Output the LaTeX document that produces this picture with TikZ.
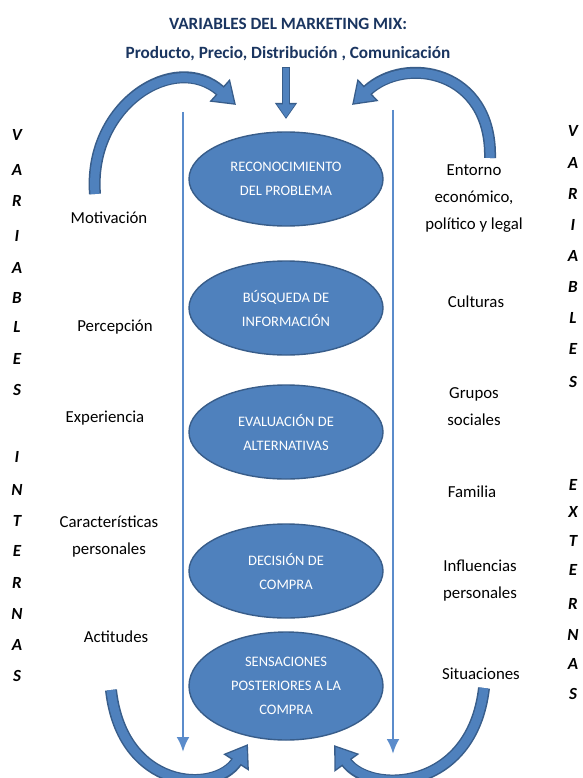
\documentclass[tikz,border=0pt]{standalone}
\usepackage{fontspec}
\setmainfont{Carlito}
\usetikzlibrary{shapes.geometric,arrows.meta}
\definecolor{ebl}{HTML}{4F81BD}
\definecolor{edk}{HTML}{385D8A}
\definecolor{vln}{HTML}{5B8CCB}
\definecolor{ttl}{HTML}{1A3560}
\tikzset{
  stage/.style={ellipse,fill=ebl,draw=edk,line width=1.4pt,minimum width=194pt,minimum height=94pt,
    text=white,align=center,inner sep=0pt,font=\fontsize{14.5}{24}\selectfont},
  lab/.style={align=center,font=\fontsize{16.8}{27}\selectfont,text=black},
  vlet/.style={font=\fontsize{17}{18}\selectfont\bfseries\itshape,text=black},
  ttlstyle/.style={font=\fontsize{17.2}{29}\selectfont\bfseries,text=ttl,align=center},
  vline/.style={draw=vln,line width=2.8pt,-{Latex[width=13pt,length=15pt]}},
  curvout/.style={draw=edk,line width=12pt,-{Triangle[width=29pt,length=22pt]}},
  curvin/.style={draw=ebl,line width=9pt,shorten >=2.5pt,-{Triangle[width=24pt,length=18pt]}},
}
\begin{document}
\begin{tikzpicture}[x=1pt,y=-1pt]
\useasboundingbox (0,0) rectangle (582,778);
\clip (0,0) rectangle (582,778);
\fill[white] (0,0) rectangle (582,778);

% title
\node[ttlstyle] (title) at (288,40) {VARIABLES DEL MARKETING MIX:\\Producto, Precio, Distribución , Comunicación};

% stages
\node[stage] (e1) at (286,179) {RECONOCIMIENTO\\DEL PROBLEMA};
\node[stage] (e2) at (286,308) {BÚSQUEDA DE\\INFORMACIÓN};
\node[stage] (e3) at (286,432) {EVALUACIÓN DE\\ALTERNATIVAS};
\node[stage] (e4) at (286,571) {DECISIÓN DE\\COMPRA};
\node[stage,minimum height=108pt] (e5) at (286,686) {SENSACIONES\\POSTERIORES A LA\\COMPRA};

% central block arrow
\coordinate (ca) at (286,67);
\coordinate (cb) at (286,119);
\draw[draw=edk,line width=8pt,-{Triangle[width=21pt,length=16pt]}] (ca) -- (cb);
\draw[draw=ebl,line width=5.5pt,shorten >=1.5pt,-{Triangle[width=17pt,length=13pt]}] ([yshift=-1pt]ca) -- (cb);

% vertical lines
\coordinate (lt) at (183,112);
\coordinate (lb) at (183,752);
\coordinate (rt) at (393,110);
\coordinate (rb) at (393,754);
\draw[vline] (lt) -- (lb);
\draw[vline] (rt) -- (rb);

% left labels
\node[lab] (l1) at (109,218) {Motivación};
\node[lab] (l2) at (115,327) {Percepción};
\node[lab] (l3) at (105,418) {Experiencia};
\node[lab] (l4) at (109,537) {Características\\personales};
\node[lab] (l5) at (116,637) {Actitudes};

% right labels
\node[lab] (r1) at (474,199) {Entorno\\económico,\\político y legal};
\node[lab] (r2) at (476,302) {Culturas};
\node[lab] (r3) at (474,407) {Grupos\\sociales};
\node[lab] (r4) at (472,492) {Familia};
\node[lab] (r5) at (480,581) {Influencias\\personales};
\node[lab] (r6) at (481,674) {Situaciones};

% vertical words
\foreach \c/\y [count=\i] in {V/135,A/170,R/201,I/236,A/268,B/298,L/327,E/359,S/390,I/457,N/490,T/521,E/551,R/583,N/614,A/645,S/676}
  \node[vlet] (vl\i) at (17,\y) {\c};
\foreach \c/\y [count=\i] in {V/131,A/163,R/194,I/225,A/256,B/287,L/318,E/349,S/382,E/485,X/512,T/541,E/570,R/604,N/635,A/664,S/694}
  \node[vlet] (vr\i) at (573,\y) {\c};

% curved arrows
\coordinate (a1s) at (95,194);
\coordinate (a1e) at (236,105);
\coordinate (a2s) at (490,158);
\coordinate (a2e) at (352,105);
\coordinate (a3s) at (111,690);
\coordinate (a3e) at (248,744);
\coordinate (a4s) at (484,688);
\coordinate (a4e) at (334,745);
\foreach \s in {curvout,curvin}{
  \draw[\s] (a1s) .. controls (88,105) and (175,50) .. (a1e);
  \draw[\s] (a2s) .. controls (492,70) and (405,55) .. (a2e);
  \draw[\s] (a3s) .. controls (122,790) and (215,795) .. (a3e);
  \draw[\s] (a4s) .. controls (472,792) and (370,795) .. (a4e);
}
\end{tikzpicture}
\end{document}
